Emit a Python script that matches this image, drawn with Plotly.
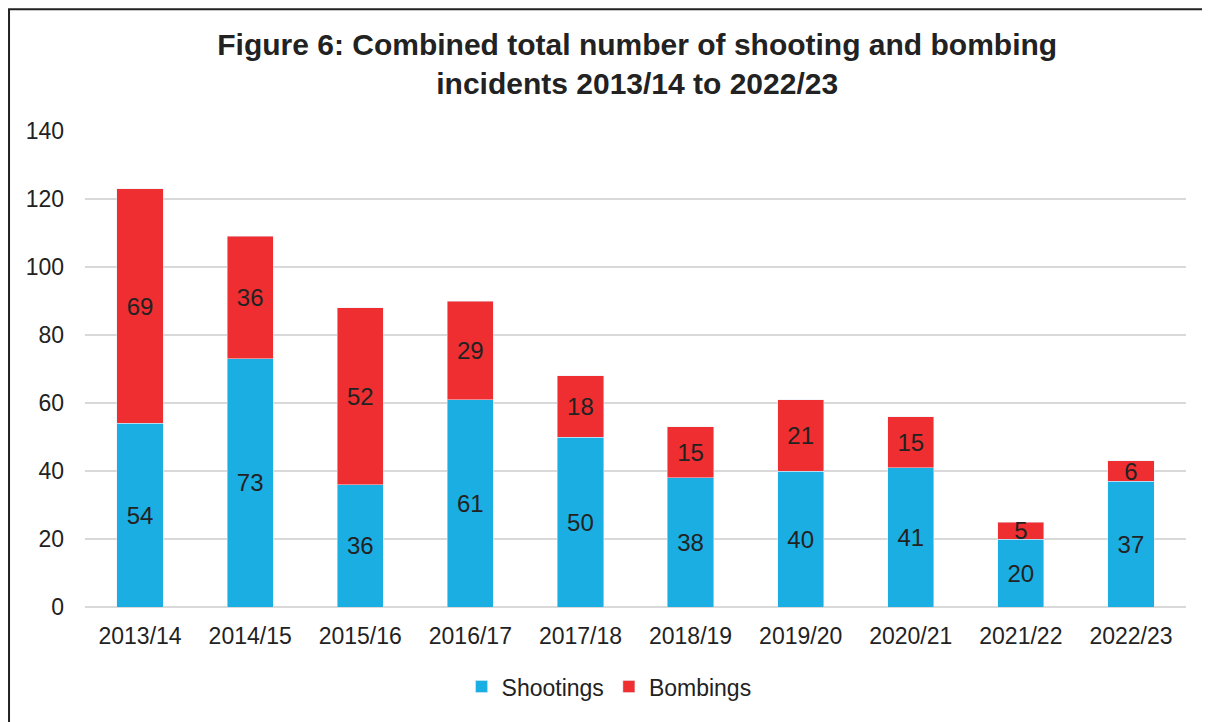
import plotly.graph_objects as go

years = ["2013/14", "2014/15", "2015/16", "2016/17", "2017/18",
         "2018/19", "2019/20", "2020/21", "2021/22", "2022/23"]
shootings = [54, 73, 36, 61, 50, 38, 40, 41, 20, 37]
bombings = [69, 36, 52, 29, 18, 15, 21, 15, 5, 6]

font_family = "Liberation Sans, Arial, sans-serif"
label_font = dict(size=24, color="#222222", family=font_family)

fig = go.Figure()
fig.add_trace(go.Bar(
    x=years, y=shootings, name="Shootings",
    marker=dict(color="#1AAEE3"),
    text=shootings, textposition="inside", insidetextanchor="middle",
    textangle=0, textfont=label_font,
))
fig.add_trace(go.Bar(
    x=years, y=bombings, name="Bombings",
    marker=dict(color="#EE2E30"),
    text=bombings, textposition="inside", insidetextanchor="middle",
    textangle=0, textfont=label_font,
))

fig.update_layout(
    barmode="stack",
    bargap=0.58,
    width=1210, height=722,
    paper_bgcolor="white", plot_bgcolor="white",
    font=dict(family=font_family, color="#222222", size=23),
    title=dict(
        text="<b>Figure 6: Combined total number of shooting and bombing<br>incidents 2013/14 to 2022/23</b>",
        x=0.52, xanchor="center", y=0.935, yanchor="top",
        font=dict(size=30, color="#222222"),
    ),
    margin=dict(l=77, r=32, t=123, b=123),
    uniformtext=dict(mode="show", minsize=24),
    legend=dict(
        orientation="h", x=0.476, xanchor="center", y=-0.122, yanchor="top",
        font=dict(size=23), traceorder="normal",
    ),
    # frame around the figure (only left and top edges fall inside the view)
    shapes=[dict(type="rect", xref="paper", yref="paper",
                 x0=-0.069, x1=1.2, y0=-0.3, y1=1.256,
                 line=dict(color="#222222", width=2))],
)
fig.update_xaxes(showgrid=False, ticks="", tickfont=dict(size=23),
                 showline=False, ticklabelstandoff=13)
fig.update_yaxes(range=[0, 140], dtick=20, showgrid=True, gridcolor="#D9D9D9",
                 gridwidth=2, zeroline=True, zerolinecolor="#D9D9D9",
                 zerolinewidth=2, tickfont=dict(size=23), ticks="",
                 ticklabelstandoff=20)

fig.write_html("out.html")
